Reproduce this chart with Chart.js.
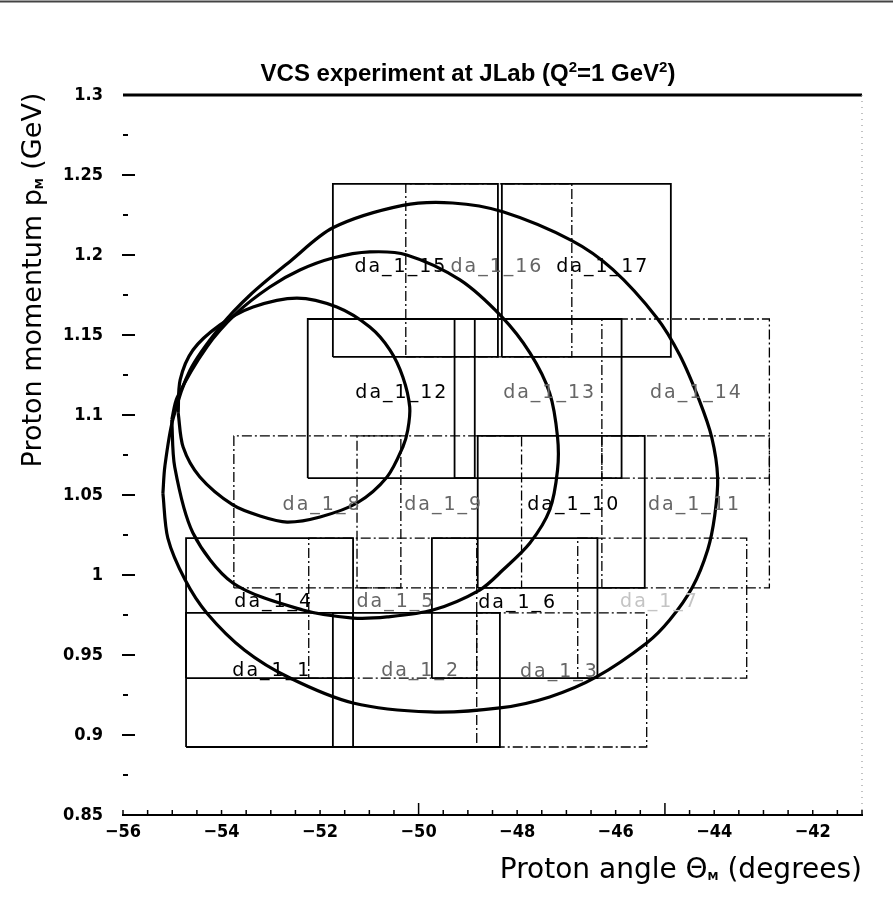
<!DOCTYPE html>
<html>
<head>
<meta charset="utf-8">
<script src="https://cdn.jsdelivr.net/npm/chart.js@4.4.1/dist/chart.umd.min.js"></script>
<style>
  html, body { margin: 0; padding: 0; background: #fff; }
  canvas { display: block; }
</style>
</head>
<body>
<canvas id="c" width="893" height="902"></canvas>
<script>
// Acceptance bins of the spectrometer setting: proton angle (deg) x momentum (GeV)
const binNames = ['da_1_1','da_1_2','da_1_3','da_1_4','da_1_5','da_1_6','da_1_7','da_1_8','da_1_9',
                  'da_1_10','da_1_11','da_1_12','da_1_13','da_1_14','da_1_15','da_1_16','da_1_17'];
const binThetaMin = [-54.72,-51.74,-48.82,-54.72,-52.23,-49.73,-46.77,-53.75,-51.25,
                     -48.80,-46.28,-52.25,-49.27,-46.28,-51.74,-50.26,-48.31];
const binThetaMax = [-51.33,-48.35,-45.37,-51.33,-48.82,-46.37,-43.34,-50.36,-47.91,
                     -45.41,-42.88,-48.86,-45.88,-42.88,-48.39,-46.89,-44.88];
const binPMin = [0.8925,0.8925,0.8925,0.9356,0.9356,0.9356,0.9356,0.9919,0.9919,
                 0.9919,0.9919,1.0606,1.0606,1.0606,1.1363,1.1363,1.1363];
const binPMax = [0.9763,0.9763,0.9763,1.0231,1.0231,1.0231,1.0231,1.0869,1.0869,
                 1.0869,1.0869,1.1600,1.1600,1.1600,1.2444,1.2444,1.2444];
// where each bin name is written
const labelTheta = [-52.98,-49.96,-47.14,-52.94,-50.46,-47.99,-45.11,-51.96,-49.49,
                    -46.85,-44.40,-50.34,-47.34,-44.36,-50.36,-48.41,-46.26];
const labelP = [0.9400,0.9400,0.9394,0.9831,0.9831,0.9825,0.9831,1.0438,1.0438,
                1.0438,1.0438,1.1138,1.1138,1.1138,1.1925,1.1925,1.1925];

// Closed kinematic contours
const outerTheta = [-55.19,-55.15,-54.99,-54.64,-54.03,-53.42,-52.61,-51.74,-50.32,-49.31,-48.29,
                    -46.89,-46.06,-45.17,-44.70,-44.30,-44.05,-43.93,-43.99,-44.13,-44.44,-44.90,
                    -45.37,-46.39,-47.34,-48.35,-49.77,-51.33,-52.61,-53.53,-54.30,-54.74,-55.09];
const outerP = [1.051,1.068,1.097,1.128,1.155,1.175,1.196,1.217,1.231,1.2325,1.227,
                1.209,1.191,1.161,1.1375,1.109,1.086,1.061,1.037,1.016,0.9925,0.972,
                0.9575,0.9363,0.9238,0.9169,0.9144,0.920,0.9356,0.953,0.9763,0.997,1.0231];
const middleTheta = [-55.01,-54.90,-54.30,-53.69,-53.02,-52.41,-51.74,-50.99,-50.24,-49.16,-48.31,
                     -47.74,-47.34,-47.18,-47.18,-47.34,-47.74,-48.29,-48.76,-49.71,-50.64,-51.33,
                     -52.35,-53.77,-54.58,-54.95];
const middleP = [1.097,1.111,1.1425,1.1638,1.180,1.1906,1.1981,1.2019,1.200,1.1844,1.1613,
                 1.1388,1.1138,1.0863,1.0656,1.0406,1.020,1.0031,0.9906,0.9781,0.9738,0.9731,
                 0.9781,0.995,1.0263,1.0675];
const innerTheta = [-54.88,-54.84,-54.58,-54.03,-53.36,-52.47,-51.66,-50.99,-50.58,-50.32,-50.18,
                    -50.22,-50.32,-50.64,-51.25,-52.00,-52.67,-53.22,-53.77,-54.44,-54.78];
const innerP = [1.1013,1.1219,1.1406,1.1563,1.1675,1.1731,1.1675,1.155,1.1406,1.1238,1.105,
                1.0906,1.080,1.0613,1.045,1.0363,1.0331,1.0369,1.0438,1.0613,1.080];

// Axis ticks
const thetaTicks = [-56,-54,-52,-50,-48,-46,-44,-42];
const thetaLongTicks = [-50,-45];
const pTicks = [0.85,0.9,0.95,1.0,1.05,1.1,1.15,1.2,1.25,1.3];

// ---- styling ----
const SOLID_BINS = new Set(['da_1_1','da_1_2','da_1_4','da_1_6','da_1_10','da_1_12','da_1_13','da_1_15','da_1_17']);
const STRONG_LABELS = new Set(['da_1_1','da_1_4','da_1_6','da_1_10','da_1_12','da_1_15','da_1_17']);
const FONT = '"DejaVu Sans", sans-serif';
const TICK_FONT = '"DejaVu Sans Condensed", "DejaVu Sans", sans-serif';

function closedPath(xs, ys) {
  const pts = xs.map((x, i) => ({ x: x, y: ys[i] }));
  pts.push({ x: xs[0], y: ys[0] });
  return pts;
}

const datasets = [];
binNames.forEach((name, i) => {
  const t0 = binThetaMin[i], t1 = binThetaMax[i], p0 = binPMin[i], p1 = binPMax[i];
  const solid = SOLID_BINS.has(name);
  datasets.push({
    label: name,
    data: [{x:t0,y:p0},{x:t1,y:p0},{x:t1,y:p1},{x:t0,y:p1},{x:t0,y:p0}],
    showLine: true, tension: 0, pointRadius: 0,
    borderColor: '#000', borderWidth: solid ? 1.8 : 1.3,
    borderDash: solid ? [] : [10, 3, 2, 3],
    borderCapStyle: 'butt', borderJoinStyle: 'miter'
  });
});
[[outerTheta, outerP], [middleTheta, middleP], [innerTheta, innerP]].forEach(([xs, ys], k) => {
  datasets.push({
    label: 'contour' + k,
    data: closedPath(xs, ys),
    showLine: true, tension: 0.3, cubicInterpolationMode: 'default',
    pointRadius: 0, borderColor: '#000', borderWidth: 3.2
  });
});

const decorations = {
  id: 'decorations',
  afterDatasetsDraw(chart) {
    const ctx = chart.ctx;
    const xs = chart.scales.x, ys = chart.scales.y;
    ctx.save();
    binNames.forEach((name, i) => {
      ctx.font = '19px ' + FONT;
      if ('letterSpacing' in ctx) ctx.letterSpacing = '2px';
      ctx.fillStyle = STRONG_LABELS.has(name) ? '#000' : (name === 'da_1_7' ? '#c4c4c4' : '#666');
      ctx.textAlign = 'center';
      ctx.textBaseline = 'middle';
      ctx.fillText(name, xs.getPixelForValue(labelTheta[i]), ys.getPixelForValue(labelP[i]));
    });
    ctx.restore();
  },
  afterDraw(chart) {
    const ctx = chart.ctx;
    const a = chart.chartArea;
    const xs = chart.scales.x, ys = chart.scales.y;
    ctx.save();
    if ('letterSpacing' in ctx) ctx.letterSpacing = '0px';
    // page rule at the very top
    ctx.strokeStyle = '#444'; ctx.lineWidth = 2;
    ctx.beginPath(); ctx.moveTo(0, 1.5); ctx.lineTo(chart.width, 1.5); ctx.stroke();
    // top frame line
    ctx.strokeStyle = '#000'; ctx.lineWidth = 3;
    ctx.beginPath(); ctx.moveTo(a.left, a.top); ctx.lineTo(a.right, a.top); ctx.stroke();
    // faint right frame
    ctx.strokeStyle = '#9a9a9a'; ctx.lineWidth = 1.2; ctx.setLineDash([1, 5]);
    ctx.beginPath(); ctx.moveTo(a.right, a.top); ctx.lineTo(a.right, a.bottom); ctx.stroke();
    ctx.setLineDash([]);
    // inward ticks on the momentum axis
    ctx.strokeStyle = '#000'; ctx.lineWidth = 2;
    for (let k = 0; k < pTicks.length; k++) {
      const yMaj = ys.getPixelForValue(pTicks[k]);
      if (k > 0 && k < pTicks.length - 1) {
        ctx.beginPath(); ctx.moveTo(a.left - 1, yMaj); ctx.lineTo(a.left + 12, yMaj); ctx.stroke();
      }
      if (k < pTicks.length - 1) {
        const yMin = ys.getPixelForValue((pTicks[k] + pTicks[k + 1]) / 2);
        ctx.beginPath(); ctx.moveTo(a.left, yMin); ctx.lineTo(a.left + 5, yMin); ctx.stroke();
      }
    }
    // inward ticks on the angle axis
    ctx.lineWidth = 1.5;
    for (let t = xs.min; t <= xs.max + 1e-9; t += 0.5) {
      const x = xs.getPixelForValue(t);
      const len = thetaLongTicks.some(v => Math.abs(v - t) < 1e-9) ? 12 : 5;
      ctx.beginPath(); ctx.moveTo(x, a.bottom); ctx.lineTo(x, a.bottom - len); ctx.stroke();
    }
    // title
    ctx.fillStyle = '#000';
    ctx.textBaseline = 'alphabetic';
    const tf = '"Liberation Sans", Arial, sans-serif';
    const parts = [
      { t: 'VCS experiment at JLab (Q', f: 'bold 24px ' + tf, dy: 0 },
      { t: '2', f: 'bold 15px ' + tf, dy: -9 },
      { t: '=1 GeV', f: 'bold 24px ' + tf, dy: 0 },
      { t: '2', f: 'bold 15px ' + tf, dy: -9 },
      { t: ')', f: 'bold 24px ' + tf, dy: 0 }
    ];
    drawRuns(ctx, parts, 468, 81, 'center');
    // axis titles
    const xTitle = [
      { t: 'Proton angle \u0398', f: '28px ' + FONT, dy: 0 },
      { t: 'M', f: 'bold 11px ' + FONT, dy: 2 },
      { t: ' (degrees)', f: '28px ' + FONT, dy: 0 }
    ];
    drawRuns(ctx, xTitle, a.right, 878, 'right');
    ctx.save();
    ctx.translate(41, 280);
    ctx.rotate(-Math.PI / 2);
    const yTitle = [
      { t: 'Proton momentum p', f: '27px ' + FONT, dy: 0 },
      { t: 'M', f: 'bold 11px ' + FONT, dy: 2 },
      { t: ' (GeV)', f: '27px ' + FONT, dy: 0 }
    ];
    drawRuns(ctx, yTitle, 0, 0, 'center');
    ctx.restore();
    ctx.restore();
  }
};

function drawRuns(ctx, runs, x, y, align) {
  let total = 0;
  runs.forEach(r => { ctx.font = r.f; r.w = ctx.measureText(r.t).width; total += r.w; });
  let cx = align === 'center' ? x - total / 2 : (align === 'right' ? x - total : x);
  ctx.textAlign = 'left';
  runs.forEach(r => { ctx.font = r.f; ctx.fillText(r.t, cx, y + r.dy); cx += r.w; });
}

const fmtTheta = v => (v < 0 ? '\u2212' + Math.abs(v) : String(v));
const fmtP = v => String(+v.toFixed(3));

new Chart(document.getElementById('c'), {
  type: 'scatter',
  data: { datasets: datasets },
  options: {
    responsive: false,
    animation: false,
    layout: { padding: { left: 0, top: 95, right: 31, bottom: 0 } },
    plugins: { legend: { display: false }, tooltip: { enabled: false } },
    scales: {
      x: {
        type: 'linear', min: -56, max: -41,
        afterBuildTicks: s => { s.ticks = thetaTicks.map(v => ({ value: v })); },
        afterFit: s => { s.height = 87; },
        ticks: { callback: fmtTheta, color: '#000', padding: 7, maxRotation: 0,
                 font: { family: TICK_FONT, size: 18, weight: 'bold' } },
        grid: { drawOnChartArea: false, drawTicks: false },
        border: { display: true, color: '#000', width: 2 }
      },
      y: {
        type: 'linear', min: 0.85, max: 1.3,
        afterBuildTicks: s => { s.ticks = pTicks.map(v => ({ value: v })); },
        afterFit: s => { s.width = 123; },
        ticks: { callback: fmtP, color: '#000', padding: 20,
                 font: { family: TICK_FONT, size: 18, weight: 'bold' } },
        grid: { drawOnChartArea: false, drawTicks: false },
        border: { display: false }
      }
    }
  },
  plugins: [decorations]
});
</script>
</body>
</html>
